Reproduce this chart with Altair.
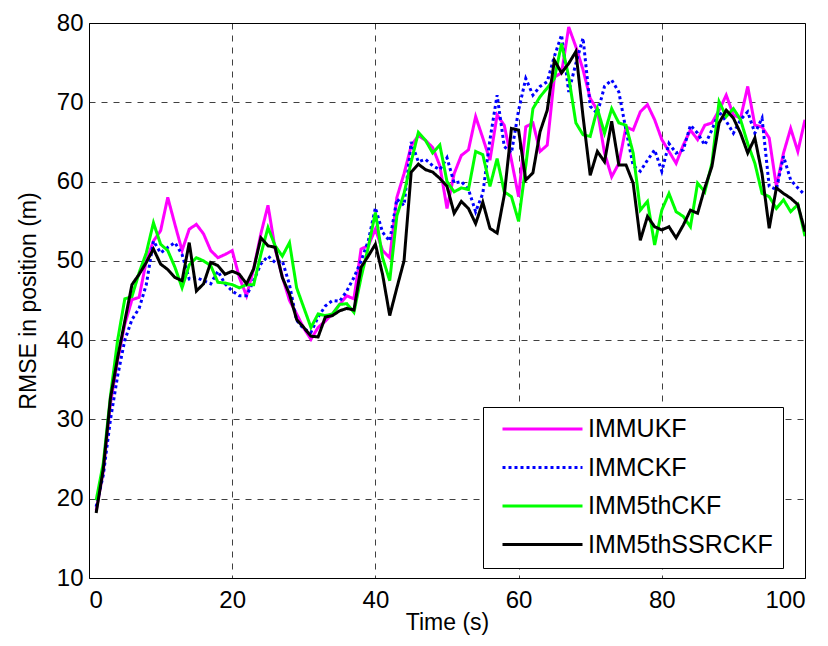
import altair as alt
import pandas as pd

time = list(range(1, 101))

immukf = [18.5, 23.5, 32, 37.5, 42, 45.1, 45.4, 50, 52.5, 53.8,
          58, 54.6, 51.3, 54, 54.6, 53.4, 51.3, 50.4, 50.8, 51.3,
          47.9, 45.6, 49, 53.4, 57, 51.5, 48, 45, 43.3, 41.5,
          40.1, 41.6, 42.4, 43.3, 44.5, 45.6, 45.2, 51.5, 51.9, 54,
          51.3, 50.4, 58, 61, 64.5, 65.8, 65.2, 64.3, 62, 56.6,
          61, 63.3, 64, 68.2, 65.5, 62.7, 68.4, 67.1, 62.7, 58.1,
          66.9, 67.4, 63.8, 64.6, 73.2, 73.7, 79.5, 77, 74.1, 70.5,
          69, 63.6, 60.6, 62.3, 66.9, 66.5, 68.8, 69.7, 67.8, 65.3,
          63.8, 62.3, 64.6, 66.5, 65.3, 67.1, 67.4, 69, 70.9, 68.4,
          68, 72, 67.1, 66.9, 65.5, 59.4, 63.6, 66.7, 63.8, 67.8]

immckf = [19, 23, 30, 35.5, 40, 42.6, 44, 47, 52.5, 51,
          51.7, 52.3, 50.8, 47.7, 47.9, 47.5, 47.1, 48.7, 47.1, 46.2,
          45.6, 45.6, 47.5, 49.6, 50.6, 49.8, 50, 47, 42.5, 41.4,
          41, 42.9, 44.3, 45, 44.9, 46.2, 47.9, 50, 52.5, 56.7,
          53.6, 52.5, 57.8, 57, 65, 62.5, 62.8, 62, 61.5, 63,
          59.8, 60, 59, 56.2, 58.5, 65.3, 70.9, 64.4, 63.6, 69,
          73, 70.9, 72, 72.6, 75.8, 78.5, 71.3, 74.9, 78.1, 69.5,
          68.6, 72, 72.8, 71.3, 66.5, 62, 61.3, 62.7, 64, 61.3,
          64.8, 63.6, 64, 67.1, 66.1, 64.6, 66.5, 68.8, 67.6, 66.1,
          67.8, 68.8, 66.1, 68, 59.4, 59, 63.2, 60.2, 59.2, 58.3]

imm5thckf = [19.8, 24.5, 33, 40, 45.2, 45.5, 48.5, 51, 54.8, 52.1,
             51.3, 49.2, 46.6, 49.5, 50.4, 50, 49.4, 47.3, 47.2, 47,
             46.6, 47, 47, 50.8, 54.2, 51.9, 50.6, 52.3, 46.6, 44.1,
             41.6, 43.3, 43.1, 43.3, 44.5, 44.6, 43.5, 47.9, 51.7, 56.1,
             50.4, 47.5, 55.7, 58.5, 62.5, 66.2, 65.2, 63.6, 64.6, 60,
             58.7, 59.2, 59, 63.8, 63.4, 59.4, 62.9, 58.7, 58.1, 55,
             62, 69.2, 70.7, 71.8, 73, 77.4, 73.2, 67.4, 65.9, 65.7,
             69.2, 66.1, 69.2, 67.4, 67.1, 63.6, 56.4, 57.5, 52, 56.4,
             58.5, 56.2, 55.6, 54.3, 59.8, 58.7, 62.3, 70.1, 68.2, 69.2,
             67.8, 64.8, 62.3, 58.5, 58.1, 56.6, 57.7, 56.2, 57.1, 53.1]

imm5thssrckf = [18.2, 23.8, 32.7, 37.8, 42.4, 47, 48.3, 49.8, 51.5, 49.6,
                48.9, 47.9, 47.5, 52.3, 46.2, 47.1, 49.8, 49.4, 48.3, 48.7,
                48.3, 47.1, 49, 52.9, 51.9, 51.7, 47.9, 45.8, 42.6, 41.6,
                40.5, 40.4, 42.9, 43.1, 43.7, 44, 43.8, 49.2, 50.6, 52.1,
                48.3, 43.1, 46.6, 50, 61.2, 62.2, 61.5, 61.2, 60.4, 59.4,
                56, 57.5, 56.6, 54.7, 57.4, 54.1, 53.5, 58.3, 66.7, 66.5,
                60.2, 61.1, 66.3, 69, 75.3, 73.7, 74.9, 76.4, 68.2, 60.8,
                63.8, 62.5, 67.6, 62.1, 62.1, 59.8, 52.6, 55.6, 54.3, 53.9,
                54.3, 52.9, 54.5, 56.4, 56, 59.2, 61.9, 67.4, 69, 68,
                66.1, 63.6, 65.5, 61, 54.1, 59.2, 58.5, 57.9, 57.1, 53.7]

series_names = ["IMMUKF", "IMMCKF", "IMM5thCKF", "IMM5thSSRCKF"]
series_values = [immukf, immckf, imm5thckf, imm5thssrckf]
series_colors = ["#FF00FF", "#0000FF", "#00FF00", "#000000"]
series_dash = [[1, 0], [3, 3], [1, 0], [1, 0]]

x_ticks = [0, 20, 40, 60, 80, 100]
y_ticks = [10, 20, 30, 40, 50, 60, 70, 80]

rows = []
for k, (name, vals) in enumerate(zip(series_names, series_values)):
    for t, v in zip(time, vals):
        rows.append({"Time": t, "RMSE": v, "Filter": name, "order": k})
df = pd.DataFrame(rows)

FONT = "Liberation Sans"

chart = alt.Chart(df).mark_line(strokeWidth=3, clip=True).encode(
    x=alt.X("Time:Q", scale=alt.Scale(domain=[0, 100], nice=False),
            axis=alt.Axis(values=x_ticks, title="Time (s)", format="d")),
    y=alt.Y("RMSE:Q", scale=alt.Scale(domain=[10, 80], nice=False),
            axis=alt.Axis(values=y_ticks, title="RMSE in position (m)", format="d")),
    color=alt.Color("Filter:N", scale=alt.Scale(domain=series_names, range=series_colors),
                    sort=series_names,
                    legend=alt.Legend(title=None, orient="none", legendX=394, legendY=384,
                                      symbolType="stroke", symbolSize=6400, symbolStrokeWidth=3,
                                      symbolOffset=8, clipHeight=24,
                                      labelFont=FONT, labelFontSize=25, labelColor="#000",
                                      labelLimit=400,
                                      strokeColor="#000", fillColor="#fff", padding=10,
                                      rowPadding=13.5, labelOffset=4)),
    strokeDash=alt.StrokeDash("Filter:N", scale=alt.Scale(domain=series_names, range=series_dash),
                              sort=series_names, legend=None),
    order=alt.Order("order:Q"),
).properties(
    width=716, height=555,
    padding={"left": 81, "top": 15, "right": 15, "bottom": 60},
    autosize=alt.AutoSizeParams(type="none"),
).configure_view(
    stroke="#000", strokeWidth=1, fill="#fff"
).configure_axis(
    domain=False, ticks=False, grid=True, gridColor="#000", gridDash=[6, 6],
    gridOpacity=0.75, gridWidth=1,
    labelFont=FONT, labelFontSize=24, labelColor="#000", labelPadding=6,
    titleFont=FONT, titleFontSize=23, titleFontWeight="normal", titleColor="#000",
).configure_axisY(titlePadding=16).configure_axisX(labelPadding=10, titlePadding=-1)

chart.save("out.html", embed_options={"renderer": "svg", "actions": False})
